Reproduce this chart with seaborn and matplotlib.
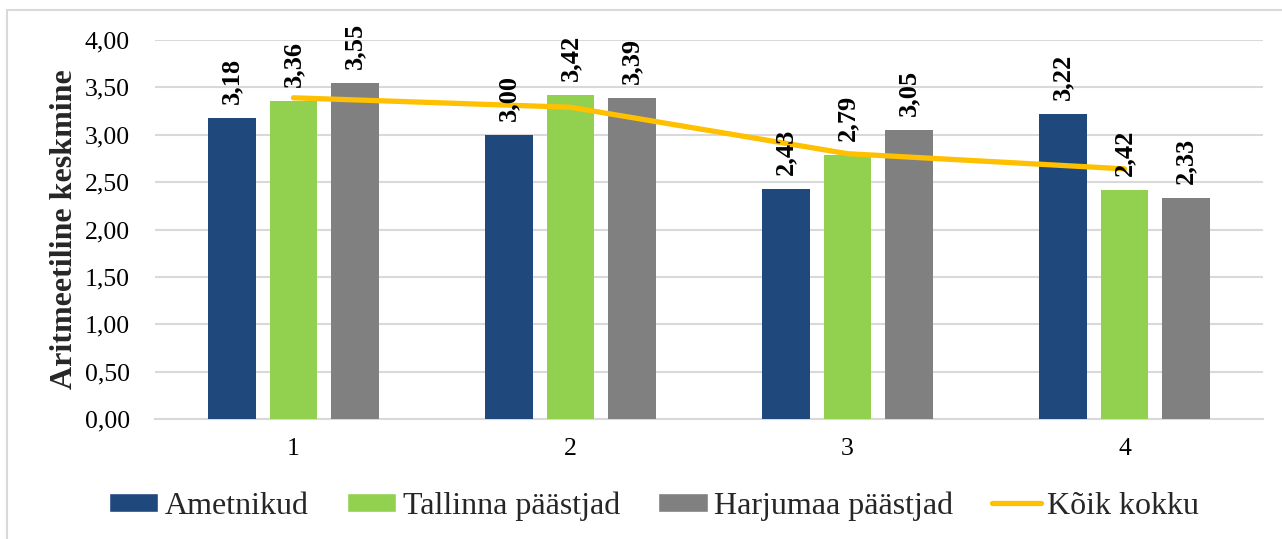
import matplotlib
matplotlib.use("Agg")
import matplotlib.pyplot as plt
import matplotlib.ticker as mticker
from matplotlib.patches import Rectangle
from matplotlib.lines import Line2D
from matplotlib.patches import Patch
import numpy as np
import pandas as pd
import seaborn as sns

# Data
categories = ["1", "2", "3", "4"]
series_names = ["Ametnikud", "Tallinna päästjad", "Harjumaa päästjad"]
ametnikud = [3.18, 3.00, 2.43, 3.22]
tallinna = [3.36, 3.42, 2.79, 2.42]
harjumaa = [3.55, 3.39, 3.05, 2.33]
koik_kokku = [3.39, 3.29, 2.80, 2.64]
line_name = "Kõik kokku"
y_label = "Aritmeetiline keskmine"

colors = ["#1F497D", "#92D050", "#808080"]
line_color = "#FFC000"

sns.set_theme(style="white")
plt.rcParams["font.family"] = ["Liberation Serif", "DejaVu Serif"]

df = pd.DataFrame({
    "kategooria": categories * 3,
    "grupp": sum([[n] * len(categories) for n in series_names], []),
    "vaartus": ametnikud + tallinna + harjumaa,
})

fig = plt.figure(figsize=(12.82, 5.39), dpi=100)
ax = fig.add_axes([155 / 1282, 1 - 419 / 539, 1108 / 1282, 379 / 539])

# Light frame around the chart area
fig.patches.append(Rectangle((7 / 1282, -0.05), 1.2, 1 - 10 / 539 + 0.05,
                             transform=fig.transFigure, fill=False,
                             edgecolor="#D9D9D9", linewidth=1.5, zorder=0))

sns.barplot(data=df, x="kategooria", y="vaartus", hue="grupp",
            order=categories, hue_order=series_names, palette=colors,
            width=0.666, gap=0.22, saturation=1, ax=ax, legend=False,
            edgecolor="none", zorder=3)

# Value labels above bars
for container, vals in zip(ax.containers, [ametnikud, tallinna, harjumaa]):
    for bar, v in zip(container, vals):
        ax.annotate(f"{v:.2f}".replace(".", ","),
                    (bar.get_x() + bar.get_width() / 2, bar.get_height()),
                    xytext=(0, 10), textcoords="offset points",
                    rotation=90, ha="center", va="bottom",
                    fontsize=19, fontweight="bold", color="black", zorder=5)

# Overall average line
sns.lineplot(x=np.arange(len(categories)), y=koik_kokku, color=line_color,
             linewidth=3.8, ax=ax, zorder=4, solid_capstyle="round")

ax.set_xlim(-0.5, len(categories) - 0.5)
ax.set_ylim(0, 4)
ax.yaxis.set_major_locator(mticker.MultipleLocator(0.5))
ax.yaxis.set_major_formatter(mticker.FuncFormatter(lambda v, p: f"{v:.2f}".replace(".", ",")))
ax.grid(axis="y", color="#D9D9D9", linewidth=1.5, zorder=0)
ax.set_axisbelow(True)
for s in ["top", "right", "left"]:
    ax.spines[s].set_visible(False)
ax.spines["bottom"].set_color("#D9D9D9")
ax.spines["bottom"].set_linewidth(1.5)
ax.tick_params(axis="both", length=0, labelsize=18.5, colors="black")
ax.tick_params(axis="x", pad=14)
ax.tick_params(axis="y", pad=18)
ax.set_xlabel("")
ax.set_ylabel(y_label, fontsize=23, fontweight="bold", labelpad=4)

handles = [Patch(facecolor=c, label=n) for c, n in zip(colors, series_names)]
handles.append(Line2D([0], [0], color=line_color, linewidth=3.8, label=line_name))
fig.legend(handles=handles, loc="center", bbox_to_anchor=(654 / 1282, 1 - 506 / 539),
           ncol=4, frameon=False, fontsize=23, handlelength=1.55,
           handleheight=0.55, handletextpad=0.2, columnspacing=1.2)

fig.savefig("out.png", dpi=100)
